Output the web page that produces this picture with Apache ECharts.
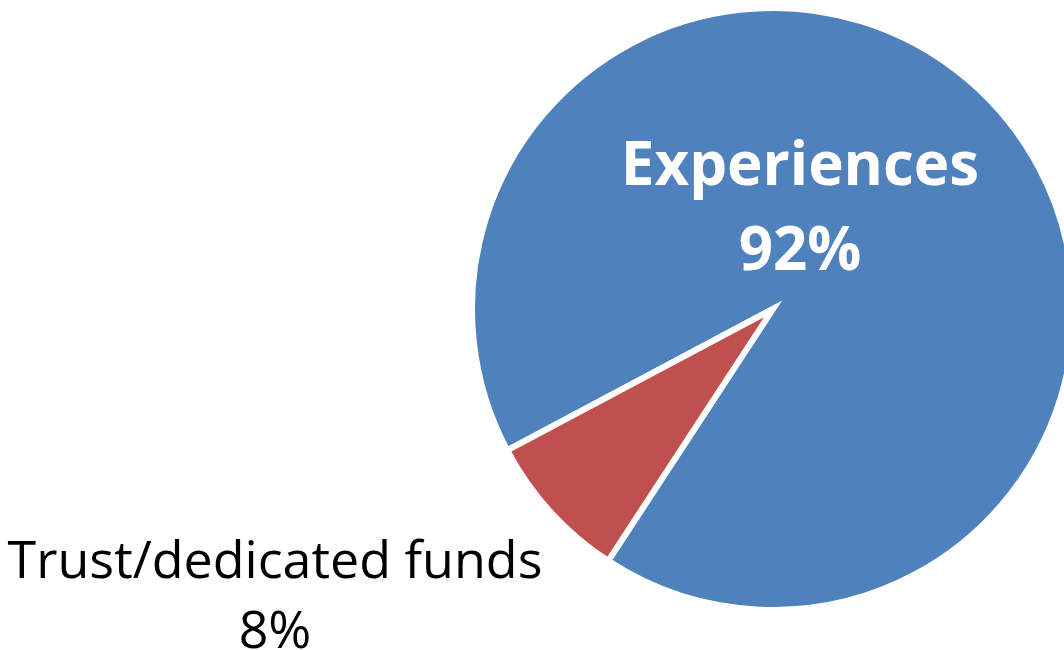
<!DOCTYPE html>
<html>
<head>
<meta charset="utf-8">
<script src="https://cdn.jsdelivr.net/npm/echarts@6/dist/echarts.min.js"></script>
<style>
html,body{margin:0;padding:0;background:#fff;}
#chart{width:1064px;height:650px;}
</style>
</head>
<body>
<div id="chart"></div>
<script>
const categories = ['Experiences', 'Trust/dedicated funds'];
const values = [92, 8];
const colors = ['#4F81BD', '#C0504D'];

const chart = echarts.init(document.getElementById('chart'));
chart.setOption({
  animation: false,
  backgroundColor: '#ffffff',
  series: [{
    type: 'pie',
    center: [773, 309],
    radius: 301,
    startAngle: 208,
    clockwise: true,
    avoidLabelOverlap: false,
    itemStyle: { borderColor: '#ffffff', borderWidth: 6, borderJoin: 'miter' },
    labelLine: { show: false },
    data: categories.map((c, i) => ({
      name: c,
      value: values[i],
      itemStyle: { color: colors[i] },
      label: i === 0 ? {
        show: true,
        position: 'inside',
        formatter: '{b}\n{d}%',
        color: '#ffffff',
        fontFamily: 'Open Sans',
        fontWeight: 'bold',
        fontSize: 60,
        lineHeight: 85
      } : {
        show: true,
        position: 'outside',
        formatter: '{b}\n{d}%',
        color: '#000000',
        fontFamily: 'Open Sans',
        fontWeight: 'normal',
        fontSize: 52,
        lineHeight: 70
      }
    })),
    labelLayout: function (params) {
      if (params.dataIndex === 0) {
        return { x: 800, y: 210, align: 'center', verticalAlign: 'middle' };
      }
      return { x: 275, y: 598, align: 'center', verticalAlign: 'middle' };
    }
  }]
});
</script>
</body>
</html>
